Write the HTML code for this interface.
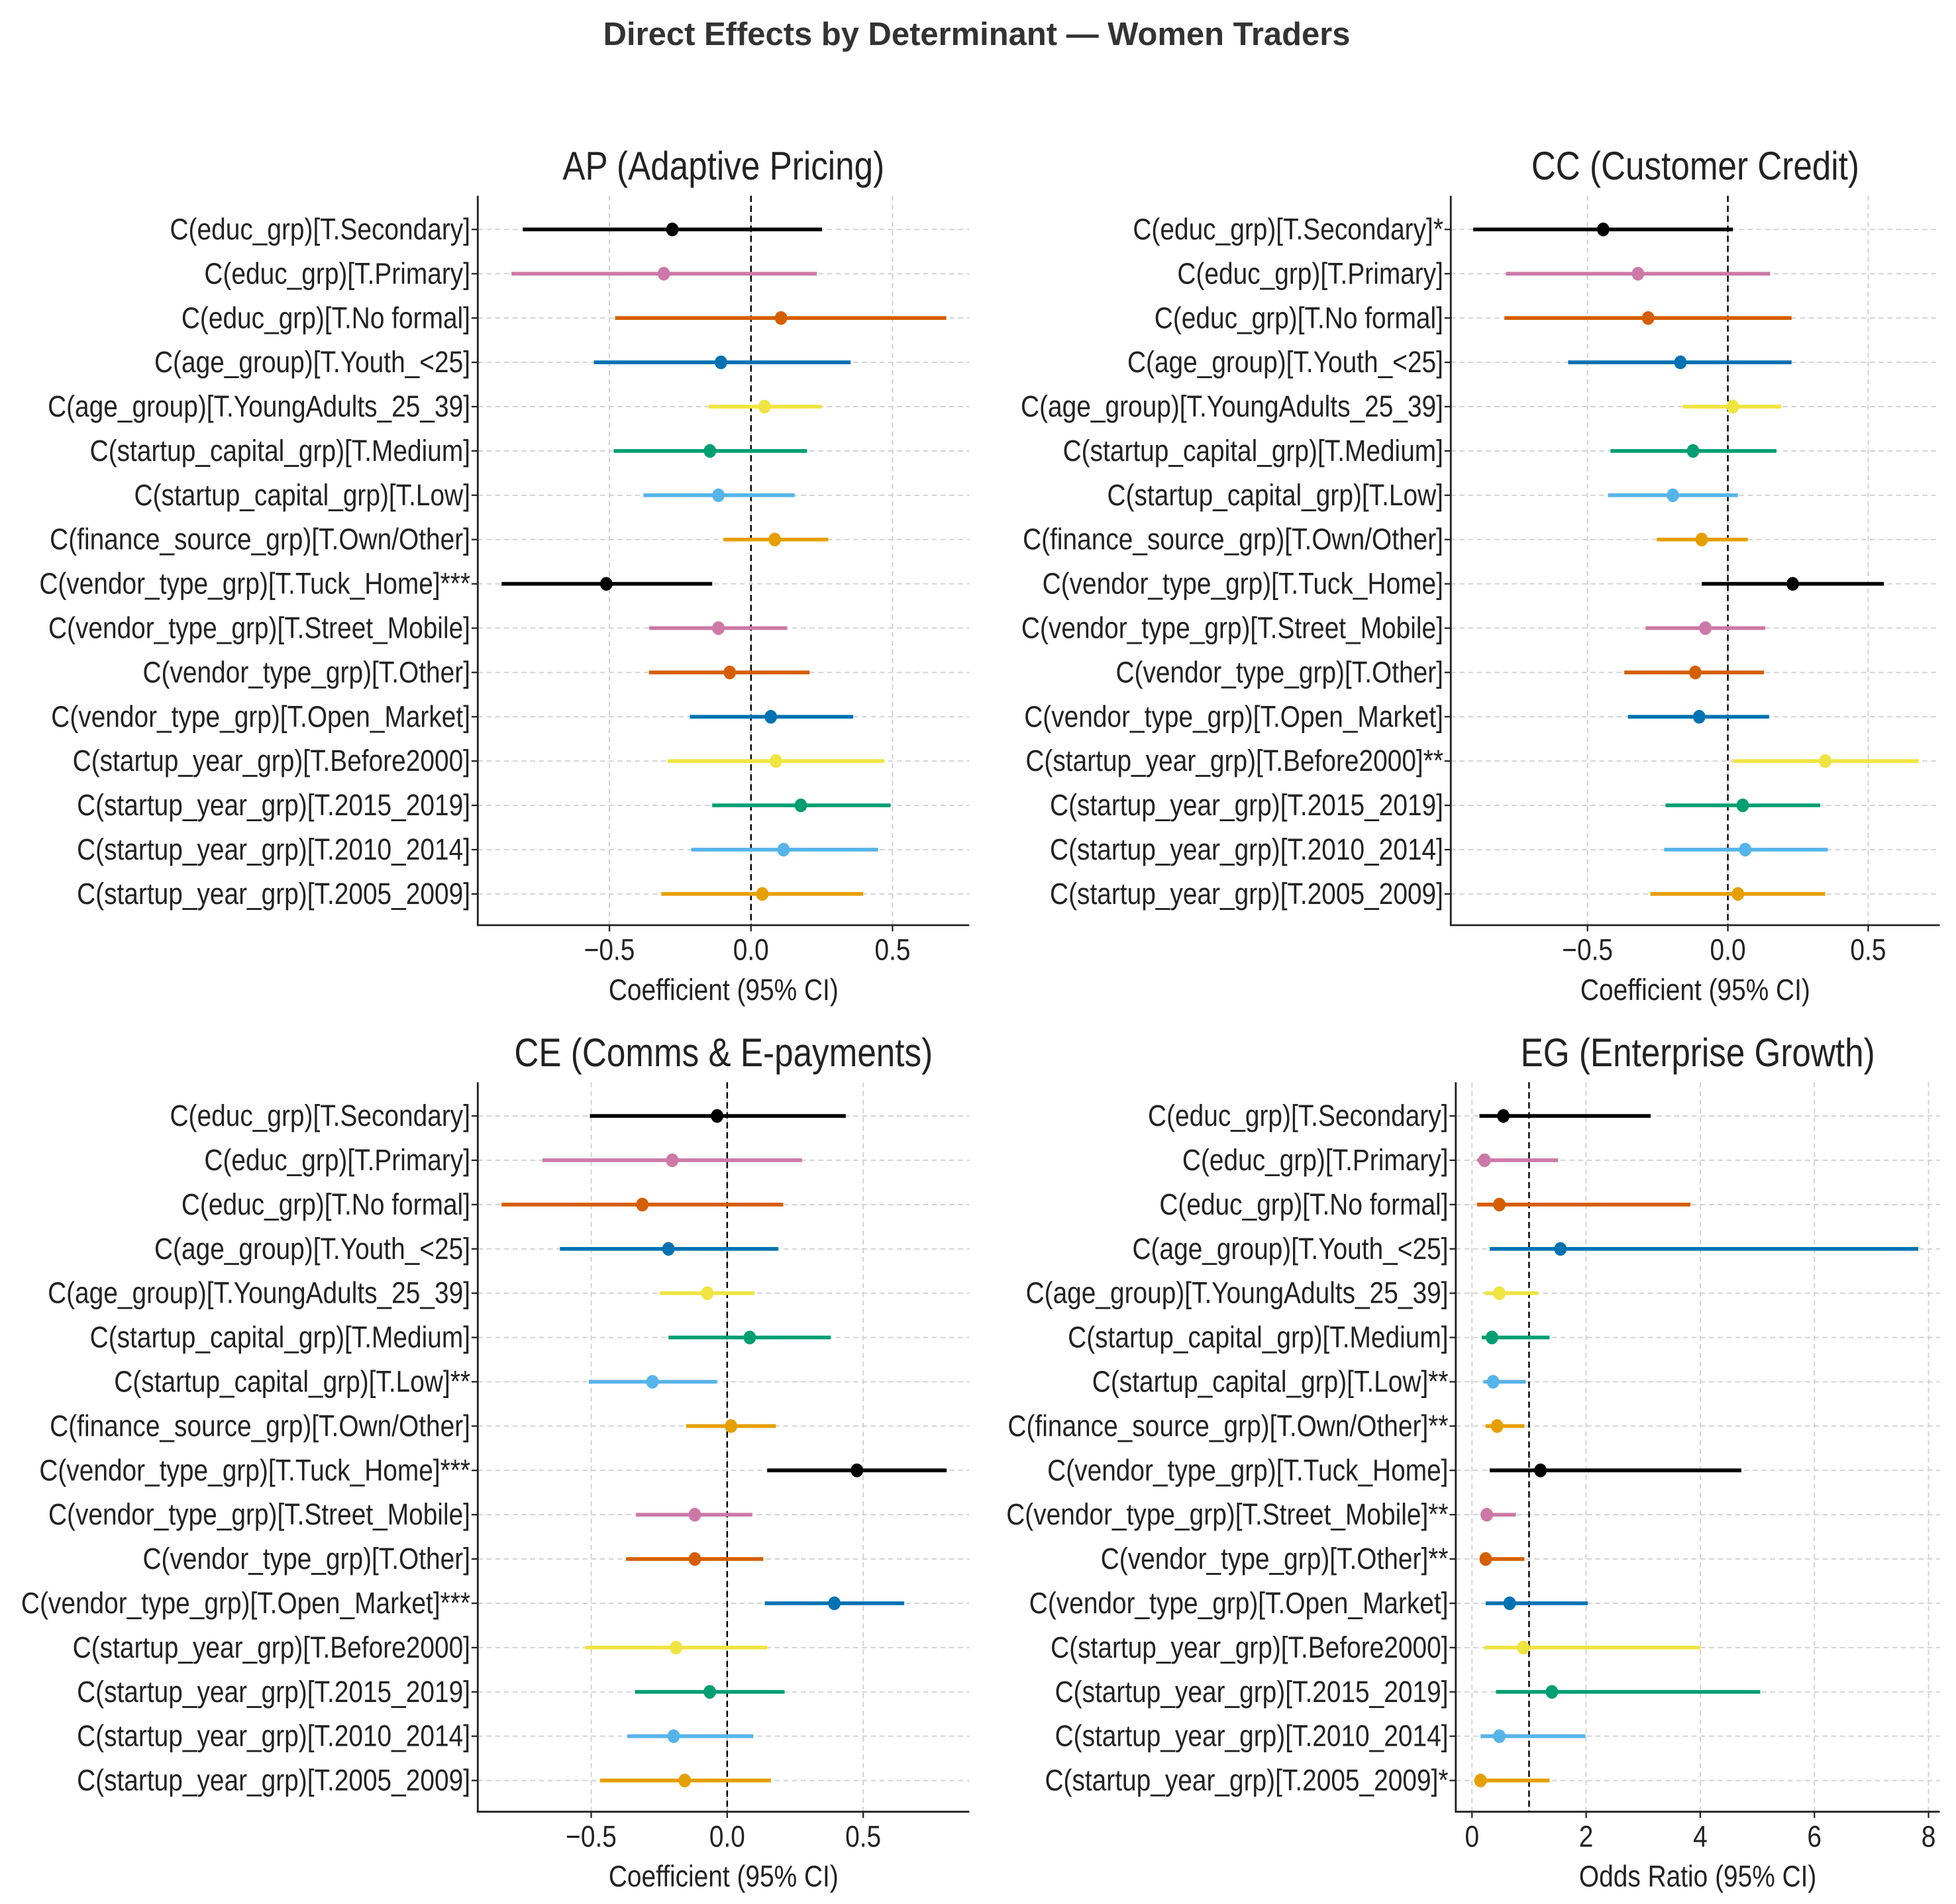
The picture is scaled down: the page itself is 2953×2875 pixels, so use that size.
<!DOCTYPE html>
<html><head><meta charset="utf-8"><style>
html,body{margin:0;padding:0;background:#fff;}
svg{display:block;}
text{font-family:"Liberation Sans",sans-serif;fill:#222;}
</style></head><body>
<svg id="fig" width="2953" height="2875" viewBox="0 0 1568 1527" preserveAspectRatio="none" xmlns="http://www.w3.org/2000/svg">
<text x="783" y="36" text-anchor="middle" font-size="26" font-weight="bold" style="fill:#333">Direct Effects by Determinant — Women Traders</text>
</svg>
<script>
const base = ["C(educ_grp)[T.Secondary]","C(educ_grp)[T.Primary]","C(educ_grp)[T.No formal]","C(age_group)[T.Youth_<25]","C(age_group)[T.YoungAdults_25_39]","C(startup_capital_grp)[T.Medium]","C(startup_capital_grp)[T.Low]","C(finance_source_grp)[T.Own/Other]","C(vendor_type_grp)[T.Tuck_Home]","C(vendor_type_grp)[T.Street_Mobile]","C(vendor_type_grp)[T.Other]","C(vendor_type_grp)[T.Open_Market]","C(startup_year_grp)[T.Before2000]","C(startup_year_grp)[T.2015_2019]","C(startup_year_grp)[T.2010_2014]","C(startup_year_grp)[T.2005_2009]"];
const apStars = ["","","","","","","","","***","","","","","","",""];
const ccStars = ["*","","","","","","","","","","","","**","","",""];
const ceStars = ["","","","","","","**","","***","","","***","","","",""];
const egStars = ["","","","","","","**","**","","**","**","","","","","*"];
const apEst = [-0.278,-0.308,0.106,-0.106,0.048,-0.145,-0.115,0.084,-0.511,-0.115,-0.075,0.07,0.088,0.176,0.115,0.04];
const apLo = [-0.806,-0.846,-0.48,-0.555,-0.15,-0.485,-0.38,-0.097,-0.881,-0.36,-0.36,-0.216,-0.295,-0.137,-0.211,-0.317];
const apHi = [0.251,0.233,0.69,0.352,0.25,0.198,0.154,0.273,-0.137,0.128,0.207,0.361,0.471,0.493,0.449,0.396];
const ccEst = [-0.444,-0.32,-0.284,-0.169,0.018,-0.124,-0.196,-0.093,0.231,-0.08,-0.116,-0.102,0.347,0.053,0.062,0.036];
const ccLo = [-0.907,-0.791,-0.796,-0.569,-0.16,-0.418,-0.427,-0.253,-0.093,-0.293,-0.369,-0.356,0.018,-0.222,-0.227,-0.276];
const ccHi = [0.018,0.151,0.227,0.227,0.191,0.173,0.036,0.071,0.556,0.133,0.129,0.147,0.68,0.329,0.356,0.347];
const ceEst = [-0.037,-0.202,-0.312,-0.216,-0.073,0.083,-0.275,0.014,0.477,-0.119,-0.119,0.394,-0.188,-0.064,-0.197,-0.156];
const ceLo = [-0.505,-0.679,-0.83,-0.615,-0.248,-0.216,-0.509,-0.151,0.147,-0.335,-0.372,0.138,-0.523,-0.339,-0.367,-0.468];
const ceHi = [0.436,0.275,0.206,0.188,0.101,0.381,-0.037,0.179,0.807,0.092,0.133,0.651,0.147,0.211,0.096,0.161];
const egEst = [0.55,0.22,0.48,1.55,0.48,0.35,0.37,0.44,1.2,0.26,0.24,0.66,0.9,1.4,0.48,0.15];
const egLo = [0.13,0.09,0.09,0.31,0.22,0.17,0.2,0.24,0.31,0.15,0.15,0.24,0.22,0.42,0.15,0.09];
const egHi = [3.13,1.51,3.83,7.82,1.16,1.36,0.94,0.92,4.72,0.77,0.92,2.03,4.0,5.05,1.99,1.36];
const coefTicks = [-0.5,0,0.5];
const coefTickLabels = ["\u22120.5","0.0","0.5"];
const orTicks = [0,2,4,6,8];
const orTickLabels = ["0","2","4","6","8"];
const palette = ["#000000","#CC79A7","#D55E00","#0072B2","#F0E442","#009E73","#56B4E9","#E69F00"];

const NS="http://www.w3.org/2000/svg";
const fig=document.getElementById('fig');
function mk(tag,attrs,parent){const e=document.createElementNS(NS,tag);for(const k in attrs)e.setAttribute(k,attrs[k]);(parent||fig).appendChild(e);return e;}
function ntext(parent,x,y,anchor,size,sc,str){
  const t=mk('text',{x:x/sc,y:y,'text-anchor':anchor,'font-size':size,transform:`scale(${sc},1)`},parent);
  t.textContent=str;return t;
}

function panel(key,title,L,R,T,B,xmin,xmax,ticks,tickLabels,ref,stars,est,lo,hi,xlabel){
  const g=mk('g',{});
  
  
  const sx=v=>L+(v-xmin)/(xmax-xmin)*(R-L);
  const y0=T+27, step=35.53;
  const sy=i=>y0+i*step;
  ticks.forEach(t=>{const l=mk('line',{x1:sx(t),x2:sx(t),y1:T,y2:B,stroke:'#d0d0d0','stroke-width':1,'stroke-dasharray':'4,3'},g);
    
    });
  base.forEach((b,i)=>{const l=mk('line',{x1:L,x2:R,y1:sy(i),y2:sy(i),stroke:'#d0d0d0','stroke-width':1,'stroke-dasharray':'4,3'},g);
    
    });
  const rl=mk('line',{x1:sx(ref),x2:sx(ref),y1:T,y2:B,stroke:'#000','stroke-width':1.3,'stroke-dasharray':'5,3'},g);
  
  
  base.forEach((b,i)=>{
    const c=palette[i%8];
    const ln=mk('line',{x1:sx(lo[i]),x2:sx(hi[i]),y1:sy(i),y2:sy(i),stroke:c,'stroke-width':3},g);
    
    
    const pt=mk('ellipse',{cx:sx(est[i]),cy:sy(i),rx:5,ry:5.5,fill:c},g);
    
    
    const tk=mk('line',{x1:L-5,x2:L,y1:sy(i),y2:sy(i),stroke:'#222','stroke-width':1.2},g);
    
    
    const tx=ntext(g,L-6,sy(i)+8,'end',24,0.86,b+stars[i]);
    
    
  });
  const sp=mk('path',{d:`M${L},${T} L${L},${B} L${R},${B}`,fill:'none',stroke:'#222','stroke-width':1.5},g);
  
  
  ticks.forEach((t,j)=>{
    const tk=mk('line',{x1:sx(t),x2:sx(t),y1:B,y2:B+5,stroke:'#222','stroke-width':1.2},g);
    
    
    const tx=ntext(g,sx(t),B+28,'middle',24,0.86,tickLabels[j]);
    
    
  });
  const xl=ntext(g,(L+R)/2,B+60,'middle',24,0.86,xlabel);
  
  
  const tt=ntext(g,(L+R)/2,T-13,'middle',32,0.85,title);
  
  
}
panel('ap','AP (Adaptive Pricing)',383,777,157,742,-0.965,0.771,coefTicks,coefTickLabels,0,apStars,apEst,apLo,apHi,'Coefficient (95% CI)');
panel('cc','CC (Customer Credit)',1163,1555,157,742,-0.987,0.755,coefTicks,coefTickLabels,0,ccStars,ccEst,ccLo,ccHi,'Coefficient (95% CI)');
panel('ce','CE (Comms & E-payments)',383,777,868,1453,-0.917,0.89,coefTicks,coefTickLabels,0,ceStars,ceEst,ceLo,ceHi,'Coefficient (95% CI)');
panel('eg','EG (Enterprise Growth)',1167,1555,868,1453,-0.284,8.197,orTicks,orTickLabels,1,egStars,egEst,egLo,egHi,'Odds Ratio (95% CI)');
</script>
</body></html>
